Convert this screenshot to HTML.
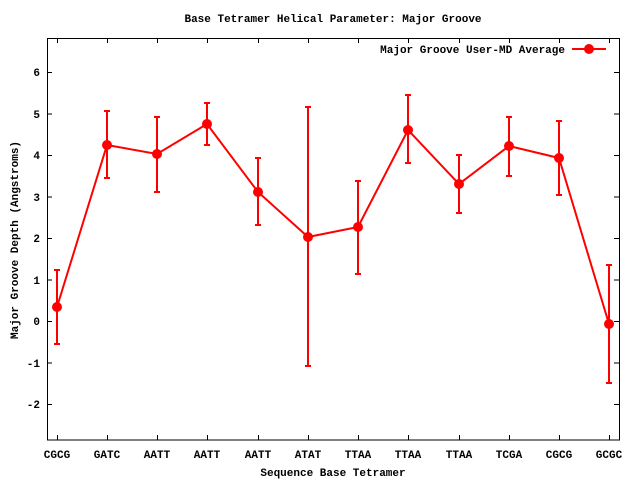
<!DOCTYPE html>
<html><head><meta charset="utf-8"><style>
html,body{margin:0;padding:0;background:#fff;}
text{font-family:"Liberation Mono",monospace;font-weight:bold;font-size:11px;fill:#000;}
</style></head><body>
<svg width="640" height="480" viewBox="0 0 640 480" xmlns="http://www.w3.org/2000/svg">
<rect width="640" height="480" fill="#fff"/>
<text x="333" y="22" text-anchor="middle">Base Tetramer Helical Parameter: Major Groove</text>
<g stroke="#000" stroke-width="1" fill="none">
<rect x="47.5" y="38.5" width="572" height="401.5"/>
<path d="M47 72.5h5M619 72.5h-5M47 114h5M619 114h-5M47 155.5h5M619 155.5h-5M47 197h5M619 197h-5M47 238.5h5M619 238.5h-5M47 280h5M619 280h-5M47 321.5h5M619 321.5h-5M47 363h5M619 363h-5M47 404.5h5M619 404.5h-5"/>
<path d="M57.5 440v-5M57.5 38v5M107.5 440v-5M107.5 38v5M157.5 440v-5M157.5 38v5M207.5 440v-5M207.5 38v5M258.5 440v-5M258.5 38v5M308.5 440v-5M308.5 38v5M358.5 440v-5M358.5 38v5M408.5 440v-5M408.5 38v5M459.5 440v-5M459.5 38v5M509.5 440v-5M509.5 38v5M559.5 440v-5M559.5 38v5M609.5 440v-5M609.5 38v5"/>
</g>
<g text-anchor="end">
<text x="40" y="76">6</text><text x="40" y="118">5</text><text x="40" y="159">4</text><text x="40" y="201">3</text><text x="40" y="242">2</text><text x="40" y="284">1</text><text x="40" y="325">0</text><text x="40" y="367">-1</text><text x="40" y="408">-2</text>
</g>
<g text-anchor="middle">
<text x="57" y="458">CGCG</text><text x="107" y="458">GATC</text><text x="157" y="458">AATT</text><text x="207" y="458">AATT</text><text x="258" y="458">AATT</text><text x="308" y="458">ATAT</text><text x="358" y="458">TTAA</text><text x="408" y="458">TTAA</text><text x="459" y="458">TTAA</text><text x="509" y="458">TCGA</text><text x="559" y="458">CGCG</text><text x="609" y="458">GCGC</text>
<text x="333" y="476">Sequence Base Tetramer</text>
<text x="0" y="0" transform="translate(18,240) rotate(-90)">Major Groove Depth (Angstroms)</text>
</g>
<text x="565" y="53" text-anchor="end">Major Groove User-MD Average</text>
<g stroke="#f00" stroke-width="2" fill="none">
<path d="M572 49h34"/>
<path d="M57 307L107 145L157 154L207 124L258 192L308 237L358 227L408 130L459 184L509 146L559 158L609 324"/>
<path d="M57 270V344M54 270h6M54 344h6
M107 111V178M104 111h6M104 178h6
M157 117V192M154 117h6M154 192h6
M207 103V145M204 103h6M204 145h6
M258 158V225M255 158h6M255 225h6
M308 107V366M305 107h6M305 366h6
M358 181V274M355 181h6M355 274h6
M408 95V163M405 95h6M405 163h6
M459 155V213M456 155h6M456 213h6
M509 117V176M506 117h6M506 176h6
M559 121V195M556 121h6M556 195h6
M609 265V383M606 265h6M606 383h6"/>
</g>
<g fill="#f00">
<circle cx="589" cy="49" r="5"/>
<circle cx="57" cy="307" r="5"/><circle cx="107" cy="145" r="5"/><circle cx="157" cy="154" r="5"/><circle cx="207" cy="124" r="5"/><circle cx="258" cy="192" r="5"/><circle cx="308" cy="237" r="5"/><circle cx="358" cy="227" r="5"/><circle cx="408" cy="130" r="5"/><circle cx="459" cy="184" r="5"/><circle cx="509" cy="146" r="5"/><circle cx="559" cy="158" r="5"/><circle cx="609" cy="324" r="5"/>
</g>
</svg>
</body></html>
